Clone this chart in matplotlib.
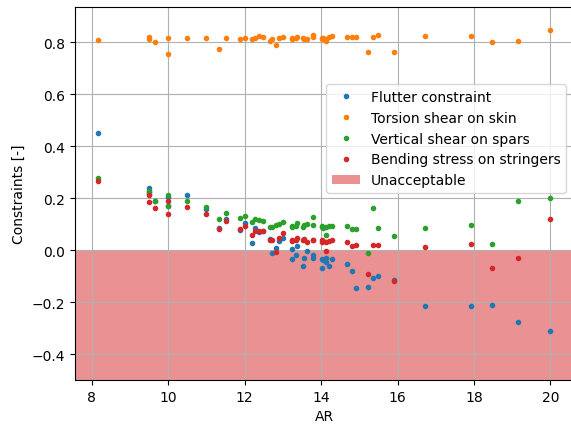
import matplotlib
matplotlib.use("Agg")
import matplotlib.pyplot as plt

AR = [8.16, 9.5, 9.5, 9.66, 10.0, 10.0, 10.5, 11.0, 11.34, 11.5,
      11.87, 12.0, 12.2, 12.28, 12.38, 12.48, 12.67, 12.71, 12.83, 12.9,
      13.0, 13.25, 13.25, 13.33, 13.38, 13.53, 13.55, 13.64, 13.78, 13.80,
      14.01, 14.01, 14.06, 14.13, 14.13, 14.21, 14.28, 14.67, 14.8, 14.9,
      15.22, 15.35, 15.5, 15.9, 16.72, 17.92, 18.48, 19.14, 20.0]

flutter = [0.45, 0.238, 0.225, 0.19, 0.205, 0.168, 0.21, 0.158, 0.085, 0.12,
           0.076, 0.103, 0.027, 0.086, 0.07, 0.075, 0.042, -0.01, 0.008, 0.036,
           0.046, 0.004, -0.035, -0.019, 0.014, -0.06, -0.032, -0.003, -0.019, -0.03,
           -0.035, -0.07, -0.04, -0.03, -0.045, -0.062, -0.035, -0.054, -0.081, -0.146,
           -0.144, -0.109, -0.101, -0.115, -0.214, -0.214, -0.21, -0.278, -0.31]

torsion = [0.807, 0.819, 0.810, 0.799, 0.814, 0.756, 0.814, 0.814, 0.772, 0.814,
           0.81, 0.814, 0.81, 0.814, 0.823, 0.818, 0.806, 0.81, 0.787, 0.814,
           0.818, 0.814, 0.812, 0.814, 0.818, 0.814, 0.81, 0.812, 0.826, 0.82,
           0.817, 0.81, 0.814, 0.805, 0.812, 0.82, 0.824, 0.82, 0.818, 0.818,
           0.76, 0.82, 0.826, 0.76, 0.823, 0.823, 0.799, 0.803, 0.846]

vshear = [0.276, 0.226, 0.215, 0.188, 0.21, 0.169, 0.188, 0.167, 0.12, 0.143,
          0.124, 0.132, 0.106, 0.119, 0.115, 0.111, 0.09, 0.09, 0.096, 0.1,
          0.109, 0.09, 0.092, 0.092, 0.103, 0.088, 0.095, 0.1, 0.126, 0.098,
          0.094, 0.09, 0.085, 0.058, 0.088, 0.092, 0.094, 0.094, 0.081, 0.081,
          -0.012, 0.163, 0.085, 0.054, 0.085, 0.097, 0.023, 0.187, 0.201]

bending = [0.265, 0.21, 0.186, 0.163, 0.188, 0.14, 0.167, 0.14, 0.081, 0.111,
           0.081, 0.094, 0.058, 0.073, 0.073, 0.073, 0.038, 0.04, -0.006, 0.047,
           0.064, 0.038, 0.035, 0.04, 0.047, 0.038, 0.042, 0.03, 0.038, 0.04,
           0.03, 0.04, 0.035, -0.004, 0.03, 0.035, 0.038, 0.032, 0.015, 0.019,
           -0.094, 0.019, 0.019, -0.119, 0.01, 0.023, -0.07, -0.031, 0.119]

labels = ["Flutter constraint", "Torsion shear on skin",
          "Vertical shear on spars", "Bending stress on stringers"]

fig = plt.figure(figsize=(5.71, 4.27), dpi=100)
ax = fig.add_axes([75 / 571, 46 / 427, 498 / 571, 373 / 427])

span = ax.axhspan(-0.5, 0.0, color="tab:red", alpha=0.5, lw=0, label="Unacceptable")
handles = []
for vals, lab, col in zip([flutter, torsion, vshear, bending], labels,
                          ["tab:blue", "tab:orange", "tab:green", "tab:red"]):
    h, = ax.plot(AR, vals, ".", color=col, label=lab)
    handles.append(h)
handles.append(span)

ax.set_xlim(7.56, 20.59)
ax.set_ylim(-0.5, 0.935)
ax.set_xticks([8, 10, 12, 14, 16, 18, 20])
ax.set_yticks([-0.4, -0.2, 0.0, 0.2, 0.4, 0.6, 0.8])
ax.grid(True)
ax.set_xlabel("AR")
ax.set_ylabel("Constraints [-]")
ax.legend(handles=handles, loc="upper right", bbox_to_anchor=(1.0, 0.812))

fig.savefig("out.png", dpi=100)
